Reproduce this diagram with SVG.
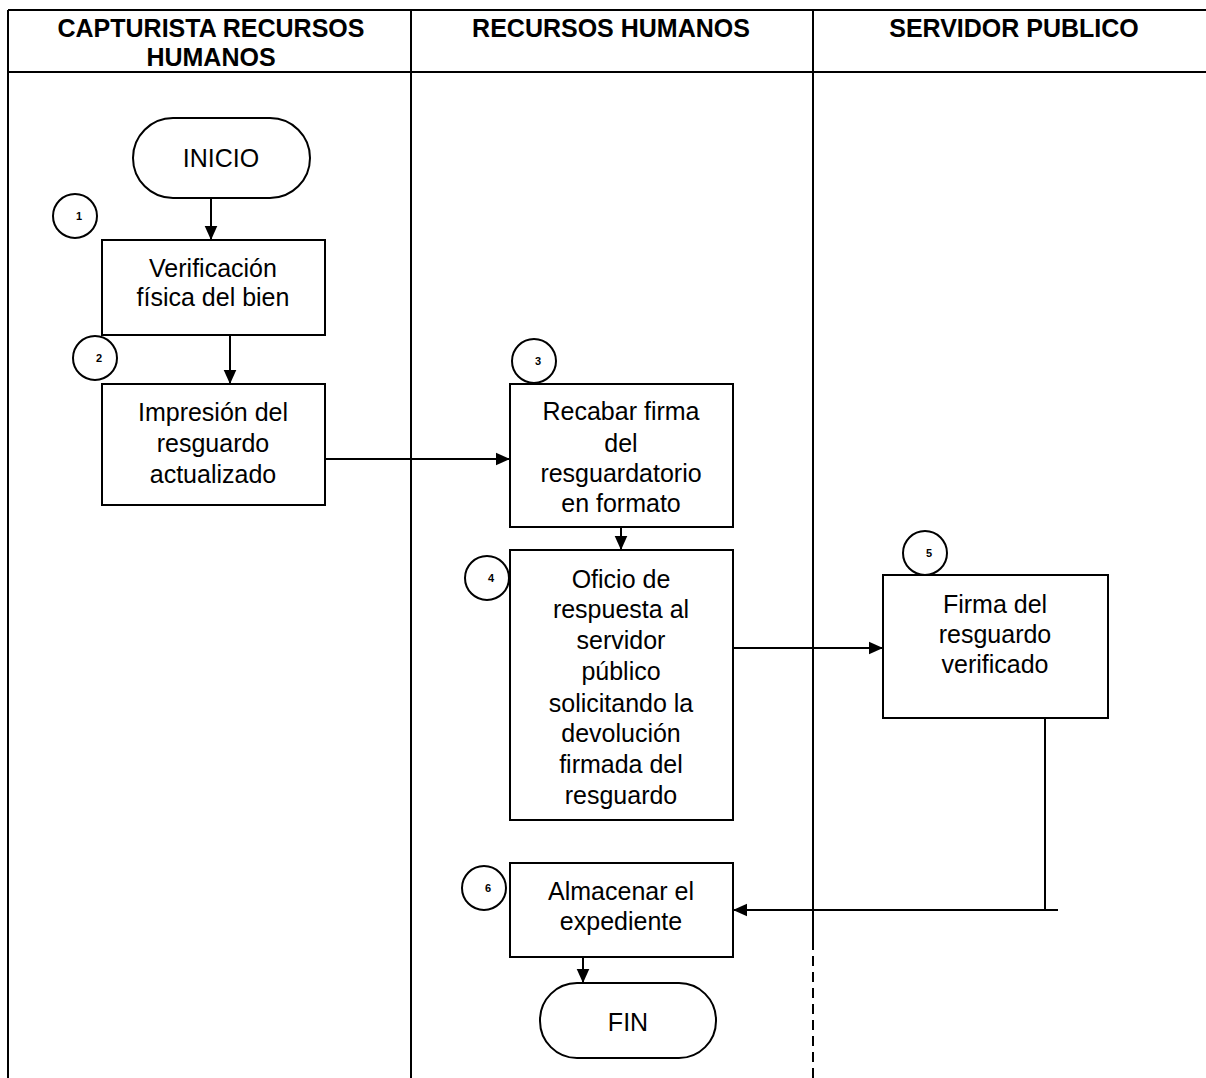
<svg xmlns="http://www.w3.org/2000/svg" width="1206" height="1078" viewBox="0 0 1206 1078">
<style>
.frame{stroke:#000;stroke-width:2;fill:none}
.box{fill:#fff;stroke:#000;stroke-width:2}
.circ{fill:#fff;stroke:#000;stroke-width:2}
.t{font-family:"Liberation Sans",Arial,sans-serif;font-size:25px;fill:#000;text-anchor:middle}
.h{font-family:"Liberation Sans",Arial,sans-serif;font-size:25px;font-weight:bold;fill:#000;text-anchor:middle}
.n{font-family:"Liberation Sans",Arial,sans-serif;font-size:11px;font-weight:bold;fill:#000;text-anchor:middle}
.c{stroke:#000;stroke-width:2;fill:none}
</style>
<defs>
<marker id="ah" viewBox="0 0 10 10" refX="10" refY="5" markerWidth="14" markerHeight="14" markerUnits="userSpaceOnUse" orient="auto">
<path d="M0,0.5 L10,5 L0,9.5 z" fill="#000"/>
</marker>
</defs>
<rect width="1206" height="1078" fill="#fff"/>
<g id="lanes">
<line class="frame" x1="8" y1="10" x2="1206" y2="10"/>
<line class="frame" x1="8" y1="72" x2="1206" y2="72"/>
<line class="frame" x1="8" y1="10" x2="8" y2="1078"/>
<line class="frame" x1="411" y1="10" x2="411" y2="1078"/>
<line class="frame" x1="813" y1="10" x2="813" y2="940"/>
<line class="frame" x1="813" y1="940" x2="813" y2="1078" stroke-dasharray="10,6"/>
<text class="h" x="211" y="37">CAPTURISTA RECURSOS</text>
<text class="h" x="211" y="66">HUMANOS</text>
<text class="h" x="611" y="37">RECURSOS HUMANOS</text>
<text class="h" x="1014" y="37">SERVIDOR PUBLICO</text>
</g>
<g id="connectors">
<line class="c" x1="211" y1="198" x2="211" y2="240" marker-end="url(#ah)"/>
<line class="c" x1="230" y1="335" x2="230" y2="384" marker-end="url(#ah)"/>
<line class="c" x1="325" y1="459" x2="510" y2="459" marker-end="url(#ah)"/>
<line class="c" x1="621" y1="527" x2="621" y2="550" marker-end="url(#ah)"/>
<line class="c" x1="733" y1="648" x2="883" y2="648" marker-end="url(#ah)"/>
<polyline class="c" points="1045,718 1045,910 1058,910"/>
<line class="c" x1="1045" y1="910" x2="733" y2="910" marker-end="url(#ah)"/>
<line class="c" x1="583" y1="957" x2="583" y2="983" marker-end="url(#ah)"/>
</g>
<g id="inicio">
<rect class="box" x="133" y="118" width="177" height="80" rx="40" ry="40"/>
<text class="t" x="221" y="167">INICIO</text>
</g>
<g id="step1">
<rect class="box" x="102" y="240" width="223" height="95"/>
<text class="t" x="213" y="277">Verificación</text>
<text class="t" x="213" y="306">física del bien</text>
<circle class="circ" cx="75" cy="216" r="22"/>
<text class="n" x="79" y="220">1</text>
</g>
<g id="step2">
<rect class="box" x="102" y="384" width="223" height="121"/>
<text class="t" x="213" y="421">Impresión del</text>
<text class="t" x="213" y="452">resguardo</text>
<text class="t" x="213" y="483">actualizado</text>
<circle class="circ" cx="95" cy="358" r="22"/>
<text class="n" x="99" y="362">2</text>
</g>
<g id="step3">
<rect class="box" x="510" y="384" width="223" height="143"/>
<text class="t" x="621" y="420">Recabar firma</text>
<text class="t" x="621" y="452">del</text>
<text class="t" x="621" y="482">resguardatorio</text>
<text class="t" x="621" y="512">en formato</text>
<circle class="circ" cx="534" cy="361" r="22"/>
<text class="n" x="538" y="365">3</text>
</g>
<g id="step4">
<rect class="box" x="510" y="550" width="223" height="270"/>
<text class="t" x="621" y="588">Oficio de</text>
<text class="t" x="621" y="618">respuesta al</text>
<text class="t" x="621" y="649">servidor</text>
<text class="t" x="621" y="680">público</text>
<text class="t" x="621" y="712">solicitando la</text>
<text class="t" x="621" y="742">devolución</text>
<text class="t" x="621" y="773">firmada del</text>
<text class="t" x="621" y="804">resguardo</text>
<circle class="circ" cx="487" cy="578" r="22"/>
<text class="n" x="491" y="582">4</text>
</g>
<g id="step5">
<rect class="box" x="883" y="575" width="225" height="143"/>
<text class="t" x="995" y="613">Firma del</text>
<text class="t" x="995" y="643">resguardo</text>
<text class="t" x="995" y="673">verificado</text>
<circle class="circ" cx="925" cy="553" r="22"/>
<text class="n" x="929" y="557">5</text>
</g>
<g id="step6">
<rect class="box" x="510" y="863" width="223" height="94"/>
<text class="t" x="621" y="900">Almacenar el</text>
<text class="t" x="621" y="930">expediente</text>
<circle class="circ" cx="484" cy="888" r="22"/>
<text class="n" x="488" y="892">6</text>
</g>
<g id="fin">
<rect class="box" x="540" y="983" width="176" height="75" rx="37" ry="37"/>
<text class="t" x="628" y="1031">FIN</text>
</g>
</svg>
